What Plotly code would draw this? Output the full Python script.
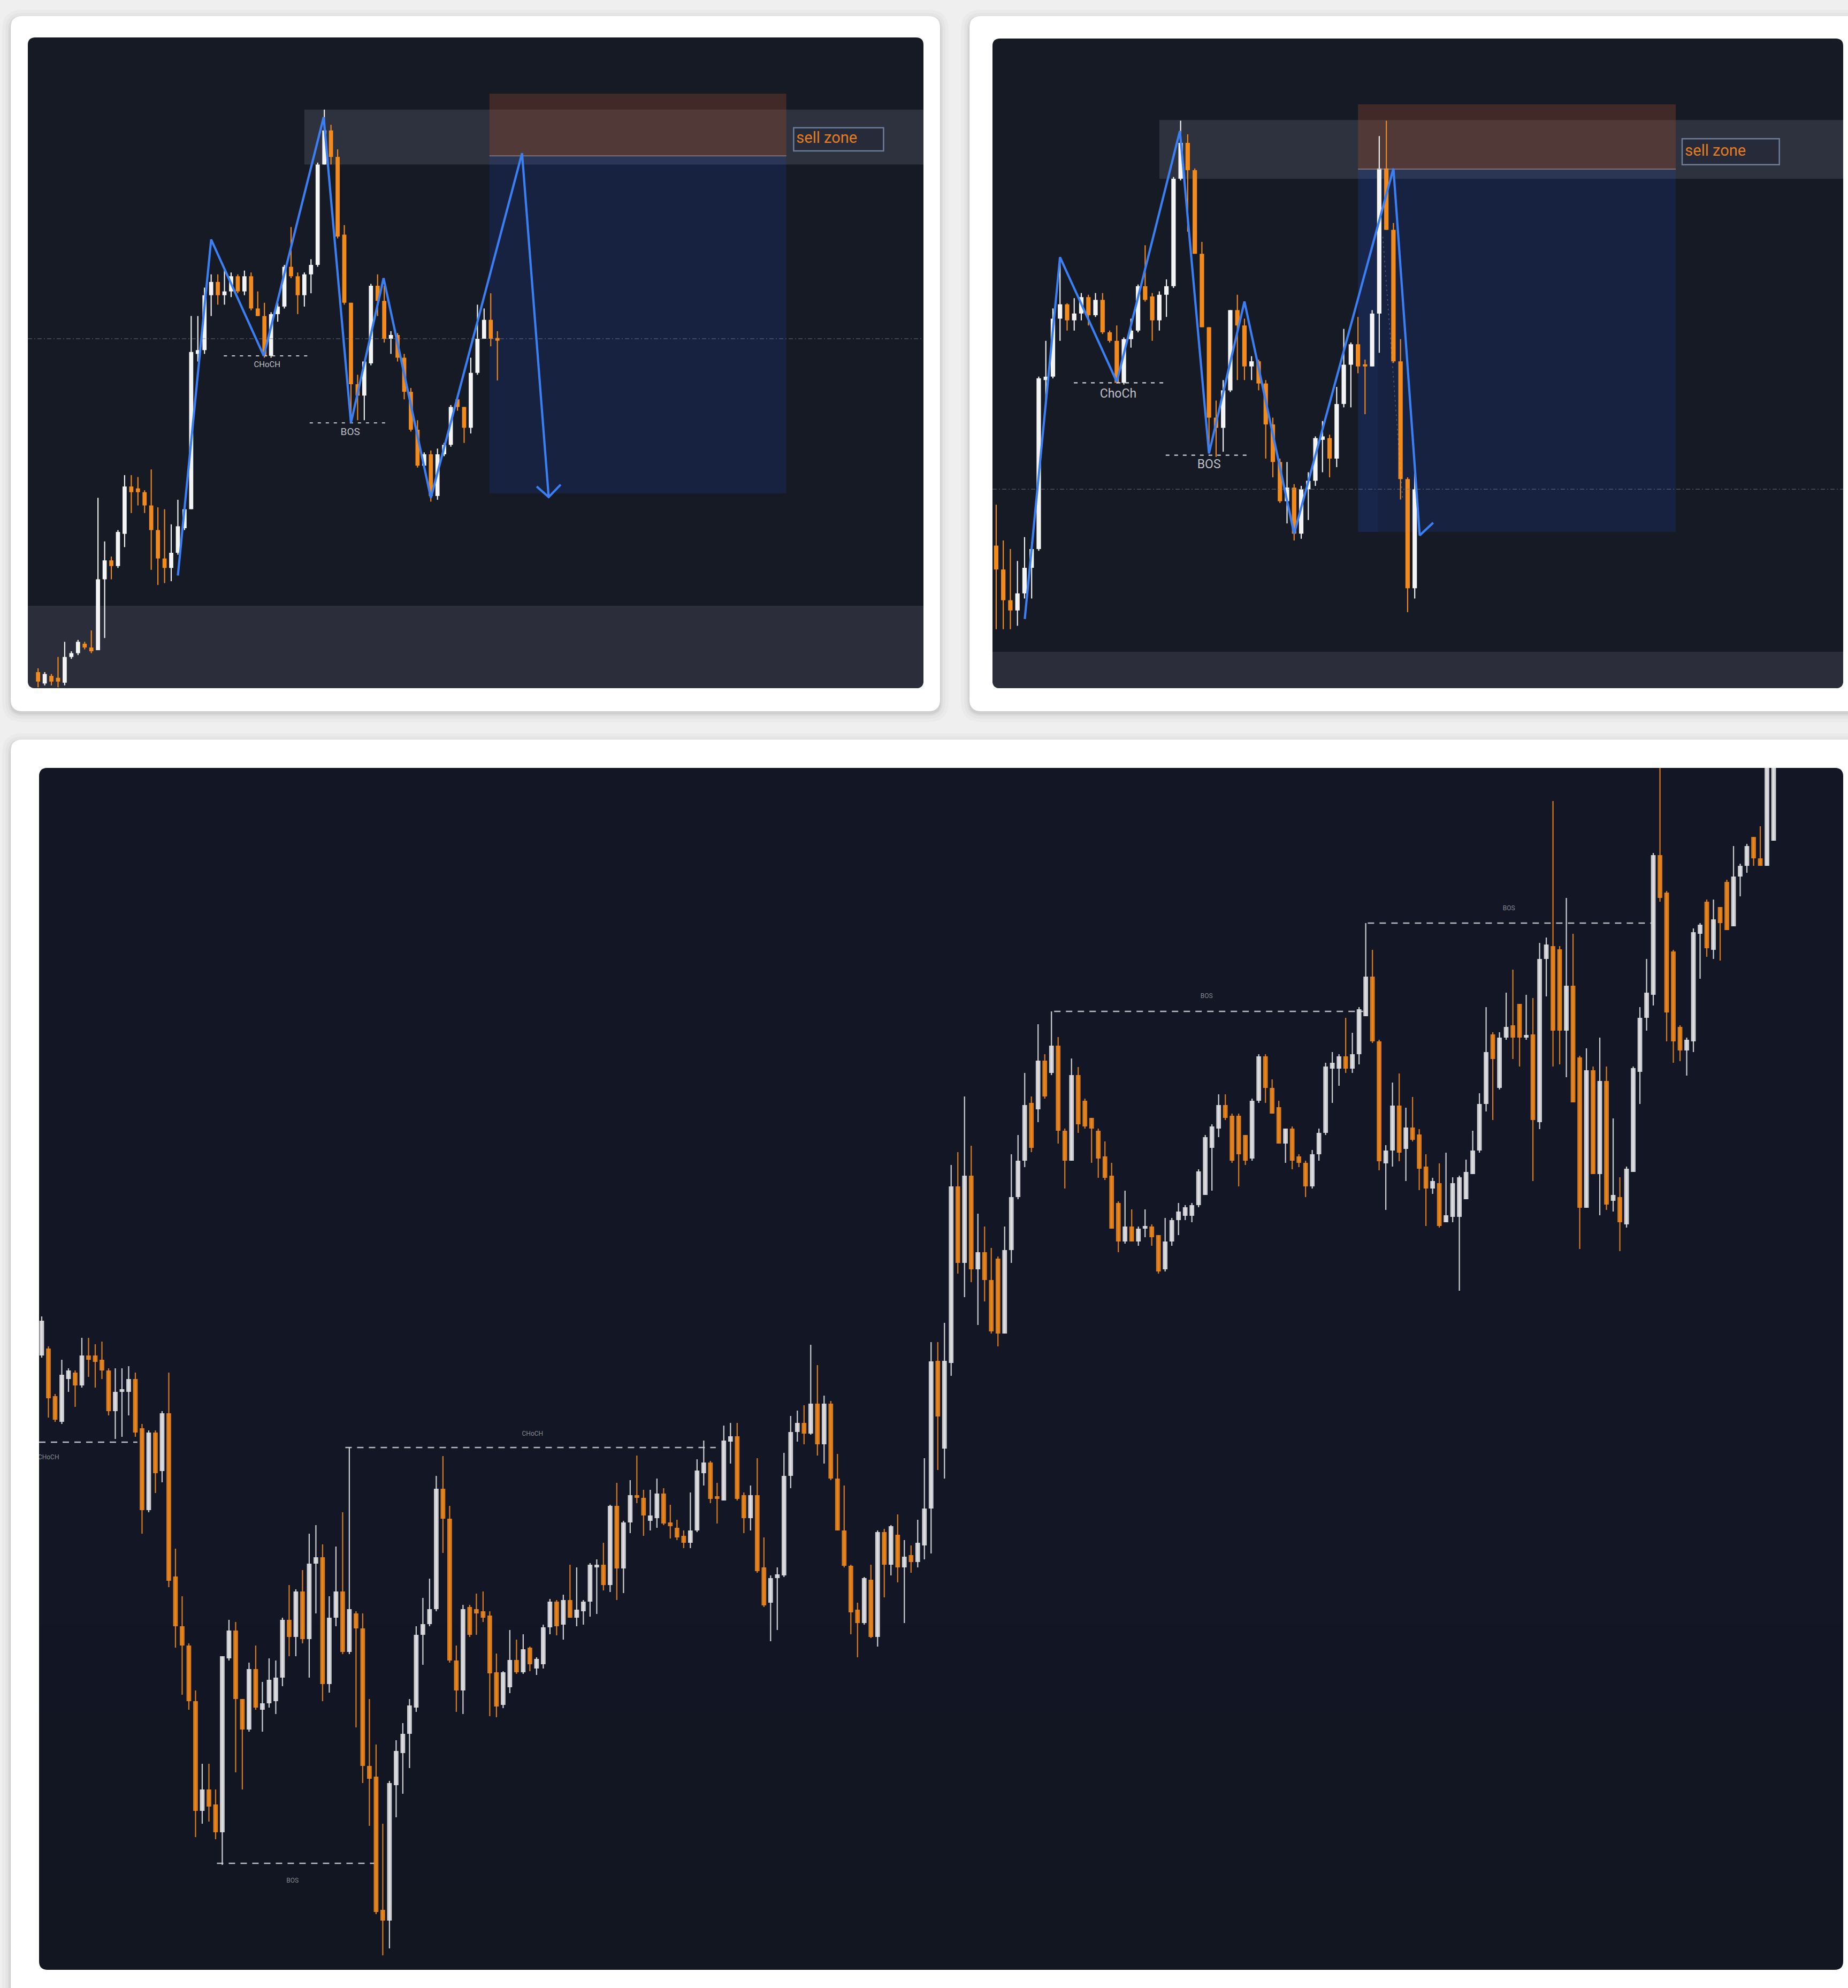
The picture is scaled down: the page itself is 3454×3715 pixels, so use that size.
import plotly.graph_objects as go

W, H = 3454, 3715

# ---------------- Panel 1 (top-left) ----------------
p1_open = [48,18,38,33,20,88,98,123,113,106, 293,343,328,413,538,533,523,488,423,348,
           323,363,428,478,888,898,1043,1078,1043,1053, 1093,1053,1093,1008,988,883,993,1013,1118,1093,
           1043,1098,1123,1388,1478,1408,1203,1023,808,778, 863,1068,1028,928,938,878,788,688,593,623,
           513,623,648,768,748,693,838,928,978,930]
p1_high = [58,48,43,88,128,103,133,128,158,508, 393,353,423,568,568,563,528,583,483,478,
           438,503,483,988,988,1063,1098,1098,1113,1103, 1098,1108,1103,1053,1023,998,1023,1123,1223,1103,
           1103,1138,1393,1533,1493,1428,1228,1023,833,868, 1073,1098,1068,948,943,888,798,713,628,633,
           638,653,753,773,748,878,1018,1008,1048,948]
p1_low = [8,13,13,8,13,83,93,108,98,106, 138,293,323,378,468,488,468,318,278,283,
          288,358,423,478,868,888,988,1018,1018,1038, 1048,1043,1003,988,878,878,973,1008,1088,993,
          1013,1048,1118,1388,1388,1193,1018,718,713,713, 858,988,918,888,868,768,683,588,588,498,
          503,618,643,738,653,678,833,928,908,818]
p1_close = [23,43,23,23,88,98,128,113,103,293, 343,328,418,538,523,523,488,423,348,323,
            363,433,478,893,898,1043,1078,1043,1053,1093, 1053,1093,1008,988,883,993,1013,1118,1093,1043,
            1098,1123,1388,1478,1408,1198,1023,808,778,868, 1068,1028,928,938,878,788,688,593,623,513,
            623,648,748,748,693,838,928,978,928,923]
p1_zig_x = [21.0, 26.0, 33.9, 42.9, 47.0, 51.9, 59.0, 72.7, 76.7]
p1_zig_y = [303, 1190, 883, 1513, 706, 1088, 508, 1418, 510]
p1_arrow_x = [74.9, 76.7, 78.5]
p1_arrow_y = [538, 510, 543]

# ---------------- Panel 2 (top-right) ----------------
p2_open = [283,213,123,93,143,218,273,768,778,948, 990,943,963,1011,958,1003,908,883,760,888,
           913,1043,1013,943,1018,1043,1358,1463,1383,1138, 923,658,628,738,973,928,808,823,758,638,
           528,413,453,318,448,473,593,598,538,698, 813,873,813,808,963,1388,1208,823,478,158]
p2_high = [403,298,273,238,308,293,778,883,978,1128, 993,1008,1023,1018,1023,1023,913,928,893,948,
           1048,1163,1023,1028,1063,1363,1528,1488,1388,1173, 923,708,768,973,1018,948,838,828,768,658,
           538,528,463,458,498,603,648,608,748,918, 878,953,828,973,1483,1528,1228,888,483,503]
p2_low = [38,38,38,48,128,128,268,708,773,883, 913,913,943,928,953,903,878,758,755,863,
          908,998,883,913,953,1038,1353,1203,1138,923, 553,543,558,733,768,768,768,738,538,483,
          408,348,298,303,358,458,498,483,513,688, 688,788,668,808,848,1208,818,418,88,128]
p2_close = [213,123,93,143,218,273,773,778,948,990, 943,963,1011,958,1003,908,883,760,888,913,
            1043,1003,943,1018,1043,1358,1463,1383,1138,923, 658,628,738,973,928,808,823,758,638,528,
            413,453,318,448,473,598,603,538,698,813, 873,808,808,963,1388,1208,823,478,158,448]
p2_zig_x = [4.03, 9.0, 17.0, 25.9, 30.0, 35.0, 42.0, 56.0, 59.7, 61.6]
p2_zig_y = [68, 1128, 763, 1498, 553, 998, 318, 1388, 313, 350]

# ---------------- Panel 3 (bottom) ----------------
p3_open = [1148,1161,1072,1024,1104,1116,1092,1148,1148,1140, 1120,1044,1080,1080,1104,1012,859,1004,932,1040,
           735,642,606,502,297,337,309,257,582,634, 506,449,562,486,498,502,546,654,622,707,
           618,759,771,534,658,707,594,666,638,381, 361,112,92,345,405,441,490,626,646,674,
           899,843,578,522,678,674,670,662,
           556,495,528,579,556,602,563,571,640,688, 645,691,658,670,688,752,757,719,867,750,
           836,887,882,839,844,890,836,826,811,798, 821,928,948,882,877,987,997,887,844,887,
           752,686,732,737,923,1005,1022,1002,1058,982, 1058,918,821,755,673,648,729,622,818,757,
           813,752,775,762,793,862,
           1138,974,1134,1464,1321,1484,1309,1341,1289,1329, 1189,1345,1444,1512,1620,1608,1699,1676,1727,1568,
           1512,1672,1624,1592,1568,1520,1484,1433,1361,1389, 1361,1385,1389,1373,1309,1361,1401,1409,1409,1429,
           1448,1536,1572,1616,1596,1596,1560,1516,1624,1707, 1648,1612,1544,1572,1520,1508,1464,1524,1564,1684,
           1684,1707,1684,1711,
           1782,1856,1735,1507,1531,1615,1534,1574,1561,1501, 1460,1470,1397,1407,1407,1440,1487,1531,1618,1748,
           1648,1742,1765,1805,1742,1748,1584,1889,1913,1907, 1755,1839,1705,1424,1681,1487,1661,1437,1444,1393,
           1491,1678,1779,1822,2083,2013,1903,1762,1718,1735, 1936,1996,1906,1986,2033,1950,2043,2063,2117,2077,
           2063,2110]
p3_high = [1221,1165,1076,1140,1124,1120,1181,1181,1169,1174, 1124,1124,1124,1128,1116,1020,1008,1008,1044,1116,
           787,698,610,522,385,385,337,586,654,650, 506,574,606,538,582,578,658,719,711,747,
           815,831,795,698,791,855,976,670,666,506, 421,273,353,429,461,506,642,695,731,923,
           960,867,606,682,682,703,707,670,
           591,558,635,617,627,604,584,645,693,691, 701,757,752,691,760,767,798,869,910,839,
           915,961,897,897,918,900,869,841,821,892, 954,989,951,910,1017,1022,1022,892,905,956,
           808,737,752,966,1035,1045,1055,1168,1130,1073, 1063,964,905,757,686,734,757,821,824,831,
           851,803,793,841,956,1173,
           1173,1209,1504,1528,1632,1540,1413,1389,1349,1333, 1389,1524,1560,1676,1632,1767,1711,1791,1743,1572,
           1703,1687,1628,1592,1572,1548,1508,1436,1456,1421, 1389,1421,1393,1373,1405,1405,1433,1429,1433,1496,
           1560,1580,1636,1636,1600,1600,1560,1628,1711,1711, 1664,1624,1572,1576,1524,1512,1532,1572,1695,1715,
           1711,1779,1751,1799,
           1956,1906,1738,1541,1658,1675,1611,1631,1571,1524, 1480,1507,1527,1481,1484,1514,1568,1638,1799,1752,
           1752,1826,1869,1805,1822,1816,1919,1929,2184,1913, 2003,1936,1708,1722,1688,1742,1688,1591,1481,1501,
           1688,1799,1889,2087,2248,2016,1906,1765,1742,1946, 1956,2000,2000,1986,2037,2100,2067,2104,2117,2137,
           2251,2251]
p3_low = [1144,1032,1024,1020,1080,1052,1088,1108,1088,1104, 1036,992,996,1036,996,815,855,891,911,715,
          602,514,486,248,273,277,244,196,578,369, 337,445,486,445,490,478,530,586,586,610,
          546,666,502,518,642,590,590,453,349,269, 104,27,40,285,329,377,482,570,642,670,
          779,574,482,478,622,626,650,474,
          472,489,517,553,553,558,551,563,627,625, 617,658,642,645,660,665,709,706,691,704,
          816,872,811,821,826,831,806,803,788,788, 818,905,872,834,877,946,877,816,821,742,
          678,614,635,734,900,987,982,1000,961,946, 915,821,752,627,584,645,620,604,696,737,
          724,648,742,752,767,778,
          934,918,1110,1301,1257,1285,1205,1249,1189,1165, 1189,1321,1440,1500,1528,1584,1628,1672,1544,1460,
          1512,1564,1572,1508,1480,1476,1385,1341,1357,1361, 1353,1369,1353,1301,1305,1353,1373,1401,1397,1425,
          1448,1456,1556,1588,1508,1464,1504,1512,1620,1620, 1600,1544,1508,1496,1500,1444,1460,1512,1560,1620,
          1652,1676,1676,1692,
          1782,1732,1494,1420,1501,1511,1474,1548,1457,1390, 1450,1387,1397,1397,1269,1440,1487,1527,1604,1588,
          1645,1738,1702,1688,1738,1474,1571,1819,1688,1692, 1668,1621,1347,1424,1487,1410,1420,1417,1343,1387,
          1491,1618,1755,1802,1996,1735,1695,1698,1671,1715, 1852,1893,1889,1886,1943,1950,2006,2050,2063,2063,
          2063,2110]
p3_close = [1213,1068,1028,1112,1120,1092,1148,1140,1136,1120, 1044,1080,1084,1104,1004,859,1004,928,1040,727,
            642,606,502,297,337,305,257,586,634,506, 449,562,490,498,542,546,654,622,707,618,
            759,771,534,658,707,594,674,638,381,357, 108,92,349,409,441,494,626,646,674,899,
            843,578,522,674,626,666,658,554,
            492,556,579,556,599,571,581,640,688,642, 691,658,673,688,757,757,719,867,750,836,
            887,882,849,849,890,834,829,808,798,821, 933,948,880,880,989,997,880,844,887,745,
            681,732,739,923,1005,1022,1002,1058,982,1058, 918,821,755,668,648,732,622,818,757,829,
            752,772,762,798,862,1137,
            1034,1138,1464,1321,1484,1309,1341,1289,1193,1189, 1345,1444,1512,1616,1536,1699,1632,1727,1568,1512,
            1672,1580,1576,1572,1516,1480,1385,1361,1389,1361, 1385,1389,1369,1305,1361,1401,1417,1425,1429,1492,
            1556,1576,1616,1592,1512,1524,1512,1624,1707,1648, 1600,1544,1572,1512,1508,1464,1524,1564,1688,1695,
            1707,1684,1711,1795,
            1856,1735,1511,1531,1615,1527,1574,1551,1497,1460, 1474,1390,1410,1470,1481,1491,1531,1618,1715,1702,
            1742,1762,1742,1742,1745,1588,1889,1916,1755,1755, 1839,1621,1424,1681,1487,1661,1430,1448,1397,1497,
            1685,1779,1826,2083,2003,1789,1735,1718,1738,1939, 1953,1909,1963,1956,1943,2043,2063,2100,2077,2063,
            2248,2248]

# structure labels / levels (candle index, price)
p1_levels = [("CHoCH", 27.9, 40.8, 883, 34.4, 858, 15), ("BOS", 40.8, 52.3, 706, 46.9, 680, 19)]
p2_levels = [("ChoCh", 10.95, 23.9, 760, 17.2, 725, 23), ("BOS", 23.9, 35.6, 548, 30.0, 518, 23)]
p3_levels = [("CHoCH", -0.4, 14.3, 986, None, 957, 12), ("CHoCH", 45.4, 100.8, 976, 73.4, 1001, 12),
             ("BOS", 26.2, 49.7, 199, 37.5, 166, 12), ("BOS", 151.4, 197.6, 1791, 174.2, 1819, 12),
             ("BOS", 198.3, 240.8, 1956, 219.4, 1983, 12)]

WHITE = "#f4f4f5"
ORANGE = "#f28a1c"
BLUE = "#3b7ff2"

fig = go.Figure()


def add_candles(o, h, l, c, xa, ya, bw, ww, minh, up_col, dn_col, op=1.0):
    xs = list(range(len(o)))
    ups = [i for i in xs if c[i] >= o[i]]
    dns = [i for i in xs if c[i] < o[i]]
    for idx, col in ((ups, up_col), (dns, dn_col)):
        fig.add_trace(go.Bar(x=idx, y=[h[i] - l[i] for i in idx], base=[l[i] for i in idx],
                             width=ww, marker=dict(color=col, line=dict(width=0)), opacity=op,
                             xaxis=xa, yaxis=ya, hoverinfo="skip", showlegend=False))
    for idx, col in ((ups, up_col), (dns, dn_col)):
        fig.add_trace(go.Bar(x=idx, y=[max(abs(c[i] - o[i]), minh) for i in idx],
                             base=[min(o[i], c[i]) for i in idx],
                             width=bw, marker=dict(color=col, line=dict(width=0)), opacity=op,
                             xaxis=xa, yaxis=ya, hoverinfo="skip", showlegend=False))


def line(xs, ys, xa, ya, color, width, dash="solid"):
    fig.add_trace(go.Scatter(x=xs, y=ys, mode="lines", line=dict(color=color, width=width, dash=dash),
                             xaxis=xa, yaxis=ya, hoverinfo="skip", showlegend=False))


def text(x, y, s, xa, ya, size, color, pos="middle center"):
    fig.add_trace(go.Scatter(x=[x], y=[y], mode="text", text=[s], textposition=pos,
                             textfont=dict(family="Roboto, Open Sans, sans-serif", size=size, color=color),
                             cliponaxis=True, xaxis=xa, yaxis=ya, hoverinfo="skip", showlegend=False))


# ---------- background shapes in pixel space ----------
shapes = []


def rpath(x0, y0, x1, y1, r):
    tl, tr, br, bl = r
    T = H - y0
    B = H - y1
    return (f"M{x0+tl},{T} L{x1-tr},{T} Q{x1},{T} {x1},{T-tr} L{x1},{B+br} Q{x1},{B} {x1-br},{B} "
            f"L{x0+bl},{B} Q{x0},{B} {x0},{B+bl} L{x0},{T-tl} Q{x0},{T} {x0+tl},{T} Z")


def pshape(box, r, fill):
    if not isinstance(r, (tuple, list)):
        r = (r, r, r, r)
    shapes.append(dict(type="path", xref="paper", yref="paper", xsizemode="pixel", ysizemode="pixel",
                       xanchor=0, yanchor=0, path=rpath(*box, r), fillcolor=fill,
                       line=dict(width=0), layer="below"))


cards = [(20, 30, 1757, 1329), (1812, 30, 3490, 1329), (20, 1382, 3490, 3760)]
for (x0, y0, x1, y1) in cards:
    for e, a in ((16, 0.018), (10, 0.025), (5, 0.035), (2, 0.05)):
        pshape((x0 - e, y0 - e + 4, x1 + e, y1 + e + 4), 22 + e, f"rgba(0,0,0,{a})")
for b in cards:
    pshape(b, 22, "#ffffff")

pshape((52, 70, 1726, 1286), 14, "#161a25")
pshape((52, 1132, 1726, 1286), (0, 0, 14, 14), "#2b2e3a")
pshape((1855, 72, 3445, 1286), 14, "#161a25")
pshape((1855, 1218, 3445, 1286), (0, 0, 14, 14), "#2b2e3a")
pshape((73, 1435, 3445, 3681), 16, "#121620")
# soft vertical shading of the bottom panel (lighter at the top)
for k in range(14):
    pshape((73, 1435, 3445, 1435 + 160 * (k + 1)), (16, 16, 0, 0) if k < 13 else 16,
           "rgba(40,45,60,0.028)")


def dshape(xa, ya, x0, x1, y0, y1, fill, lc=None, lw=0):
    shapes.append(dict(type="rect", xref=xa, yref=ya, x0=x0, x1=x1, y0=y0, y1=y1, fillcolor=fill,
                       line=dict(width=lw, color=lc or "rgba(0,0,0,0)"), layer="below"))


# panel 1 overlays
dshape("x", "y", 40.0, 133.0, 1388, 1533, "rgba(120,125,140,0.25)")
dshape("x", "y", 67.8, 112.4, 1411, 1575, "rgba(140,70,45,0.36)")
dshape("x", "y", 67.8, 112.4, 520, 1411, "rgba(30,70,175,0.2)")
dshape("x", "y", 113.5, 127.0, 1424, 1485, "rgba(25,30,45,0.35)", "rgba(120,140,170,0.85)", 2.5)
# panel 2 overlays
dshape("x2", "y2", 23.0, 119.4, 1358, 1530, "rgba(120,125,140,0.25)")
dshape("x2", "y2", 51.0, 95.8, 1386, 1576, "rgba(140,70,45,0.36)")
dshape("x2", "y2", 51.0, 95.8, 323, 1386, "rgba(30,70,175,0.2)")
dshape("x2", "y2", 51.0, 53.8, 323, 1386, "rgba(40,90,200,0.08)")
dshape("x2", "y2", 96.7, 110.4, 1399, 1475, "rgba(25,30,45,0.35)", "rgba(120,140,170,0.85)", 2.5)

# ---------- traces ----------
# panel 1
line([-1.54, 133.0], [928, 928], "x", "y", "rgba(120,125,140,0.55)", 1.5, "8px,4px,2px,4px")
line([67.8, 112.4], [1411, 1411], "x", "y", "rgba(170,150,150,0.6)", 2)
add_candles(p1_open, p1_high, p1_low, p1_close, "x", "y", 0.62, 0.17, 6, WHITE, ORANGE)
for lab, xa0, xa1, yv, tx, ty, fs in p1_levels:
    line([xa0, xa1], [yv, yv], "x", "y", "rgba(225,225,230,0.9)", 2, "6px,9px")
    text(tx, ty, lab, "x", "y", fs, "rgba(215,215,220,0.9)")
line(p1_zig_x, p1_zig_y, "x", "y", BLUE, 4.2)
line(p1_arrow_x, p1_arrow_y, "x", "y", BLUE, 4.2)
text(113.9, 1455, "sell zone", "x", "y", 29, "#e37d22", "middle right")

# panel 2
line([-0.52, 119.4], [448, 448], "x2", "y2", "rgba(120,125,140,0.55)", 1.5, "8px,4px,2px,4px")
line([51.0, 95.8], [1386, 1386], "x2", "y2", "rgba(170,150,150,0.6)", 2)
line([54.5, 57.3], [1188, 418], "x2", "y2", "rgba(200,200,210,0.35)", 1.5, "3px,6px")
add_candles(p2_open, p2_high, p2_low, p2_close, "x2", "y2", 0.62, 0.16, 6, WHITE, ORANGE)
for lab, xa0, xa1, yv, tx, ty, fs in p2_levels:
    line([xa0, xa1], [yv, yv], "x2", "y2", "rgba(225,225,230,0.9)", 2.2, "7px,9px")
    text(tx, ty, lab, "x2", "y2", fs, "rgba(215,215,220,0.9)")
line(p2_zig_x, p2_zig_y, "x2", "y2", BLUE, 4.2)
text(97.1, 1437, "sell zone", "x2", "y2", 29, "#e37d22", "middle right")

# panel 3
add_candles(p3_open, p3_high, p3_low, p3_close, "x3", "y3", 0.7, 0.18, 5, "#e6e6e8", ORANGE, 0.88)
for lab, xa0, xa1, yv, tx, ty, fs in p3_levels:
    line([xa0, xa1], [yv, yv], "x3", "y3", "rgba(215,215,220,0.85)", 2.5, "12px,10px")
    if tx is None:
        text(2.6, ty, lab, "x3", "y3", fs, "rgba(190,190,195,0.7)", "middle left")
    else:
        text(tx, ty, lab, "x3", "y3", fs, "rgba(190,190,195,0.7)")

ax = dict(visible=False, showgrid=False, zeroline=False, fixedrange=True)
fig.update_layout(
    width=W, height=H, autosize=False,
    margin=dict(l=0, r=0, t=0, b=0, pad=0),
    paper_bgcolor="#efeff0", plot_bgcolor="rgba(0,0,0,0)",
    barmode="overlay", showlegend=False, shapes=shapes,
    xaxis=dict(ax, domain=[52 / W, 1726 / W], range=[-1.54, 133.0], anchor="y"),
    yaxis=dict(ax, domain=[1 - 1286 / H, 1 - 70 / H], range=[5.6, 1723.4], anchor="x"),
    xaxis2=dict(ax, domain=[1855 / W, 3445 / W], range=[-0.52, 119.4], anchor="y2"),
    yaxis2=dict(ax, domain=[1 - 1286 / H, 1 - 72 / H], range=[-134.7, 1768.7], anchor="x2"),
    xaxis3=dict(ax, domain=[73 / W, 3445 / W], range=[-0.4, 269.4], anchor="y3"),
    yaxis3=dict(ax, domain=[1 - 3681 / H, 1 - 1435 / H], range=[0, 2246], anchor="x3"),
)

fig.write_html("out.html", config={"displayModeBar": False},
               post_script="document.body.style.margin='0px';")
